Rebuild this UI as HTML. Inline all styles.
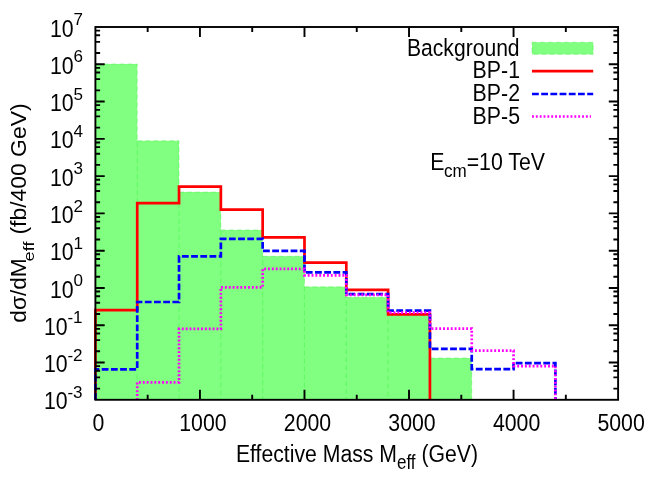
<!DOCTYPE html>
<html><head><meta charset="utf-8"><title>chart</title>
<style>html,body{margin:0;padding:0;background:#fff;}svg{display:block;position:absolute;left:0;top:0;}body,svg,text,tspan,.t{font-family:"Liberation Sans",sans-serif;}</style></head>
<body>
<svg width="654" height="491" viewBox="0 0 654 491">
<rect width="654" height="491" fill="#fff"/>
<polygon points="95.40,399.80 95.40,64.00 137.22,64.00 137.22,140.80 179.03,140.80 179.03,192.10 220.85,192.10 220.85,229.90 262.66,229.90 262.66,256.30 304.48,256.30 304.48,286.80 346.30,286.80 346.30,297.30 388.11,297.30 388.11,315.60 429.93,315.60 429.93,358.00 471.74,358.00 471.74,399.80" fill="#80ff80"/>
<path d="M95.40 64.00H137.22V399.80M137.22 140.80H179.03V399.80M179.03 192.10H220.85V399.80M220.85 229.90H262.66V399.80M262.66 256.30H304.48V399.80M304.48 286.80H346.30V399.80M346.30 297.30H388.11V399.80M388.11 315.60H429.93V399.80M429.93 358.00H471.74V399.80" fill="none" stroke="#30f030" stroke-width="0.7" stroke-dasharray="5 3" opacity="0.55"/>
<polyline points="95.40,399.80 95.40,310.10 137.22,310.10 137.22,203.10 179.03,203.10 179.03,186.70 220.85,186.70 220.85,209.60 262.66,209.60 262.66,237.30 304.48,237.30 304.48,262.70 346.30,262.70 346.30,289.90 388.11,289.90 388.11,314.40 429.93,314.40 429.93,399.80" fill="none" stroke="#ff0000" stroke-width="2.7" stroke-linejoin="miter"/>
<polyline points="95.40,399.80 95.40,369.30 137.22,369.30 137.22,302.00 179.03,302.00 179.03,256.30 220.85,256.30 220.85,238.90 262.66,238.90 262.66,250.80 304.48,250.80 304.48,272.40 346.30,272.40 346.30,294.10 388.11,294.10 388.11,310.70 429.93,310.70 429.93,348.90 471.74,348.90 471.74,369.20 513.56,369.20 513.56,363.10 555.38,363.10 555.38,399.80" fill="none" stroke="#0000ff" stroke-width="2.7" stroke-dasharray="6.8 2.4" stroke-linejoin="miter"/>
<polyline points="137.22,399.80 137.22,382.30 179.03,382.30 179.03,328.90 220.85,328.90 220.85,287.30 262.66,287.30 262.66,268.80 304.48,268.80 304.48,275.30 346.30,275.30 346.30,294.80 388.11,294.80 388.11,312.70 429.93,312.70 429.93,328.60 471.74,328.60 471.74,350.60 513.56,350.60 513.56,366.10 555.38,366.10 555.38,399.80" fill="none" stroke="#ff00ff" stroke-width="2.7" stroke-dasharray="1.9 1.95" stroke-linejoin="miter"/>
<path d="M147.67 399.80v-5.00M147.67 27.00v5.00M199.94 399.80v-10.00M199.94 27.00v10.00M252.21 399.80v-5.00M252.21 27.00v5.00M304.48 399.80v-10.00M304.48 27.00v10.00M356.75 399.80v-5.00M356.75 27.00v5.00M409.02 399.80v-10.00M409.02 27.00v10.00M461.29 399.80v-5.00M461.29 27.00v5.00M513.56 399.80v-10.00M513.56 27.00v10.00M565.83 399.80v-5.00M565.83 27.00v5.00M95.40 388.58h4.7M618.10 388.58h-4.7M95.40 377.36h4.7M618.10 377.36h-4.7M95.40 370.79h4.7M618.10 370.79h-4.7M95.40 366.13h4.7M618.10 366.13h-4.7M95.40 362.52h9.3M618.10 362.52h-9.3M95.40 351.30h4.7M618.10 351.30h-4.7M95.40 340.08h4.7M618.10 340.08h-4.7M95.40 333.51h4.7M618.10 333.51h-4.7M95.40 328.85h4.7M618.10 328.85h-4.7M95.40 325.24h9.3M618.10 325.24h-9.3M95.40 314.02h4.7M618.10 314.02h-4.7M95.40 302.80h4.7M618.10 302.80h-4.7M95.40 296.23h4.7M618.10 296.23h-4.7M95.40 291.57h4.7M618.10 291.57h-4.7M95.40 287.96h9.3M618.10 287.96h-9.3M95.40 276.74h4.7M618.10 276.74h-4.7M95.40 265.52h4.7M618.10 265.52h-4.7M95.40 258.95h4.7M618.10 258.95h-4.7M95.40 254.29h4.7M618.10 254.29h-4.7M95.40 250.68h9.3M618.10 250.68h-9.3M95.40 239.46h4.7M618.10 239.46h-4.7M95.40 228.24h4.7M618.10 228.24h-4.7M95.40 221.67h4.7M618.10 221.67h-4.7M95.40 217.01h4.7M618.10 217.01h-4.7M95.40 213.40h9.3M618.10 213.40h-9.3M95.40 202.18h4.7M618.10 202.18h-4.7M95.40 190.96h4.7M618.10 190.96h-4.7M95.40 184.39h4.7M618.10 184.39h-4.7M95.40 179.73h4.7M618.10 179.73h-4.7M95.40 176.12h9.3M618.10 176.12h-9.3M95.40 164.90h4.7M618.10 164.90h-4.7M95.40 153.68h4.7M618.10 153.68h-4.7M95.40 147.11h4.7M618.10 147.11h-4.7M95.40 142.45h4.7M618.10 142.45h-4.7M95.40 138.84h9.3M618.10 138.84h-9.3M95.40 127.62h4.7M618.10 127.62h-4.7M95.40 116.40h4.7M618.10 116.40h-4.7M95.40 109.83h4.7M618.10 109.83h-4.7M95.40 105.17h4.7M618.10 105.17h-4.7M95.40 101.56h9.3M618.10 101.56h-9.3M95.40 90.34h4.7M618.10 90.34h-4.7M95.40 79.12h4.7M618.10 79.12h-4.7M95.40 72.55h4.7M618.10 72.55h-4.7M95.40 67.89h4.7M618.10 67.89h-4.7M95.40 64.28h9.3M618.10 64.28h-9.3M95.40 53.06h4.7M618.10 53.06h-4.7M95.40 41.84h4.7M618.10 41.84h-4.7M95.40 35.27h4.7M618.10 35.27h-4.7M95.40 30.61h4.7M618.10 30.61h-4.7" stroke="#000" stroke-width="1.9" fill="none"/>
<rect x="95.40" y="27.00" width="522.70" height="372.80" fill="none" stroke="#000" stroke-width="1.9"/>
<g class="t" font-size="22.7" fill="#000" style="opacity:0.999">
<text transform="translate(98.40,430.60) scale(0.938,1.060)" text-anchor="middle">0</text>
<text transform="translate(202.94,430.60) scale(0.938,1.060)" text-anchor="middle">1000</text>
<text transform="translate(307.48,430.60) scale(0.938,1.060)" text-anchor="middle">2000</text>
<text transform="translate(412.02,430.60) scale(0.938,1.060)" text-anchor="middle">3000</text>
<text transform="translate(516.56,430.60) scale(0.938,1.060)" text-anchor="middle">4000</text>
<text transform="translate(621.10,430.60) scale(0.938,1.060)" text-anchor="middle">5000</text>
<text transform="translate(67.60,409.40) scale(0.938,1.03)" text-anchor="end">10</text>
<text transform="translate(67.40,398.00) scale(0.938,0.945)" font-size="18.2">-3</text>
<text transform="translate(67.60,372.12) scale(0.938,1.03)" text-anchor="end">10</text>
<text transform="translate(67.40,360.72) scale(0.938,0.945)" font-size="18.2">-2</text>
<text transform="translate(67.60,334.84) scale(0.938,1.03)" text-anchor="end">10</text>
<text transform="translate(67.40,323.44) scale(0.938,0.945)" font-size="18.2">-1</text>
<text transform="translate(73.60,297.56) scale(0.938,1.03)" text-anchor="end">10</text>
<text transform="translate(73.40,286.16) scale(0.938,0.945)" font-size="18.2">0</text>
<text transform="translate(73.60,260.28) scale(0.938,1.03)" text-anchor="end">10</text>
<text transform="translate(73.40,248.88) scale(0.938,0.945)" font-size="18.2">1</text>
<text transform="translate(73.60,223.00) scale(0.938,1.03)" text-anchor="end">10</text>
<text transform="translate(73.40,211.60) scale(0.938,0.945)" font-size="18.2">2</text>
<text transform="translate(73.60,185.72) scale(0.938,1.03)" text-anchor="end">10</text>
<text transform="translate(73.40,174.32) scale(0.938,0.945)" font-size="18.2">3</text>
<text transform="translate(73.60,148.44) scale(0.938,1.03)" text-anchor="end">10</text>
<text transform="translate(73.40,137.04) scale(0.938,0.945)" font-size="18.2">4</text>
<text transform="translate(73.60,111.16) scale(0.938,1.03)" text-anchor="end">10</text>
<text transform="translate(73.40,99.76) scale(0.938,0.945)" font-size="18.2">5</text>
<text transform="translate(73.60,73.88) scale(0.938,1.03)" text-anchor="end">10</text>
<text transform="translate(73.40,62.48) scale(0.938,0.945)" font-size="18.2">6</text>
<text transform="translate(73.60,36.60) scale(0.938,1.03)" text-anchor="end">10</text>
<text transform="translate(73.40,25.20) scale(0.938,0.945)" font-size="18.2">7</text>
<text transform="translate(235.90,461.80) scale(0.935,1.060)" text-anchor="start">Effective Mass M<tspan font-size="18.2" dy="6.8">eff</tspan><tspan dy="-6.8"> (GeV)</tspan></text>
<text transform="translate(26.4,322.7) rotate(-90) scale(1,0.986)">dσ/dM</text>
<text transform="translate(34.0,261.4) rotate(-90) scale(1,0.81)" font-size="18.2">eff</text>
<text transform="translate(26.4,234.6) rotate(-90) scale(1.01,0.986)">(fb/400 GeV)</text>
<text transform="translate(519.60,55.90) scale(0.930,1.020)" text-anchor="end">Background</text>
<text transform="translate(520.00,78.30) scale(0.940,1.030)" text-anchor="end">BP-1</text>
<text transform="translate(520.00,101.20) scale(0.940,1.030)" text-anchor="end">BP-2</text>
<text transform="translate(520.00,124.10) scale(0.940,1.030)" text-anchor="end">BP-5</text>
<text transform="translate(430.30,169.80) scale(0.938,1.030)" text-anchor="start">E<tspan font-size="18.2" dy="7.1" dx="-0.6">cm</tspan><tspan dy="-7.1">=10 TeV</tspan></text>
</g>
<rect x="532" y="42.3" width="61.2" height="12" fill="#80ff80"/>
<rect x="532" y="42.3" width="61.2" height="12" fill="none" stroke="#30f030" stroke-width="0.7" stroke-dasharray="5 3" opacity="0.55"/>
<line x1="532" x2="593.2" y1="71.2" y2="71.2" stroke="#ff0000" stroke-width="2.7"/>
<line x1="532" x2="593.2" y1="94" y2="94" stroke="#0000ff" stroke-width="2.7" stroke-dasharray="6.8 2.4"/>
<line x1="532" x2="591" y1="116.5" y2="116.5" stroke="#ff00ff" stroke-width="2.7" stroke-dasharray="1.9 1.95"/>
</svg>
</body></html>
